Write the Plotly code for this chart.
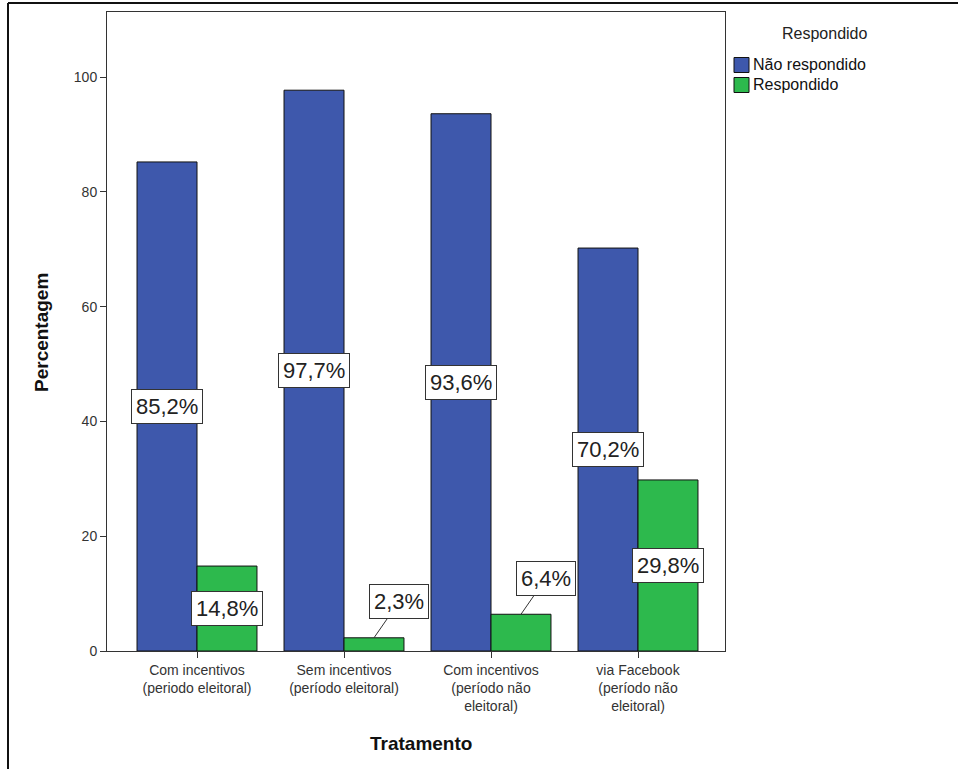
import plotly.graph_objects as go

categories = ["Com incentivos<br>(periodo eleitoral)", "Sem incentivos<br>(período eleitoral)",
              "Com incentivos<br>(período não<br>eleitoral)", "via Facebook<br>(período não<br>eleitoral)"]
series_names = ["Não respondido", "Respondido"]
nao_respondido = [85.2, 97.7, 93.6, 70.2]
respondido = [14.8, 2.3, 6.4, 29.8]
y_ticks = [0, 20, 40, 60, 80, 100]

W, H = 958, 769
L, T, R, B = 107, 12, 725, 651  # plot area pixels

BLUE = "#3E58AC"
GREEN = "#2DB94D"
FONT = "Liberation Sans, Arial, sans-serif"

fig = go.Figure()
xs = list(range(len(categories)))
fig.add_trace(go.Bar(x=xs, y=nao_respondido, name=series_names[0],
                     marker=dict(color=BLUE, line=dict(color="#111", width=1))))
fig.add_trace(go.Bar(x=xs, y=respondido, name=series_names[1],
                     marker=dict(color=GREEN, line=dict(color="#111", width=1))))

pw, ph = R - L, B - T
def px_x(p):
    return (p - L) / pw
def px_y(p):
    return (B - p) / ph

off = 0.204  # half of one bar width in category units
ann = []
box = dict(bgcolor="white", bordercolor="#333", borderwidth=1, borderpad=4,
           font=dict(family=FONT, size=22, color="#222"))
for i, v in enumerate(nao_respondido):
    ann.append(dict(x=i - off, y=v / 2, text=f"{v:.1f}%".replace(".", ","),
                    showarrow=False, xref="x", yref="y", **box))
for i, v in enumerate(respondido):
    txt = f"{v:.1f}%".replace(".", ",")
    if v < 10:
        ann.append(dict(x=i + off, y=v, text=txt, showarrow=True, arrowhead=0,
                        arrowwidth=1, arrowcolor="#333", ax=25, ay=-36,
                        xref="x", yref="y", **box))
    else:
        ann.append(dict(x=i + off, y=v / 2, text=txt, showarrow=False,
                        xref="x", yref="y", **box))

# legend (drawn manually to match the original layout)
ann.append(dict(x=px_x(780), y=px_y(33), xref="paper", yref="paper",
                xanchor="left", yanchor="middle", showarrow=False, text="Respondido",
                font=dict(family=FONT, size=16, color="#222")))
shapes = []
for k, (nm, col) in enumerate(zip(series_names, [BLUE, GREEN])):
    cy = 65 + 20 * k
    shapes.append(dict(type="rect", xref="paper", yref="paper",
                       x0=px_x(734), x1=px_x(749), y0=px_y(cy - 7.5), y1=px_y(cy + 7.5),
                       fillcolor=col, line=dict(color="#111", width=1)))
    ann.append(dict(x=px_x(751), y=px_y(cy), xref="paper", yref="paper",
                    xanchor="left", yanchor="middle", showarrow=False, text=nm,
                    font=dict(family=FONT, size=16, color="#111")))

# axis titles
ann.append(dict(x=px_x(42), y=px_y(333), xref="paper", yref="paper",
                xanchor="center", yanchor="middle",
                textangle=-90, showarrow=False, text="<b>Percentagem</b>",
                font=dict(family=FONT, size=19, color="#111")))
ann.append(dict(x=px_x(421), y=px_y(743), xref="paper", yref="paper",
                xanchor="center", yanchor="middle",
                showarrow=False, text="<b>Tratamento</b>",
                font=dict(family=FONT, size=19, color="#111")))

shapes += [
    dict(type="line", xref="paper", yref="paper", x0=px_x(8), x1=px_x(8), y0=px_y(3), y1=px_y(770),
         line=dict(color="#111", width=2)),
    dict(type="line", xref="paper", yref="paper", x0=px_x(8), x1=px_x(960), y0=px_y(3), y1=px_y(3),
         line=dict(color="#111", width=2)),
]

ymax = (B - T) / ((B - 77) / 100)
fig.update_layout(
    width=W, height=H, autosize=False,
    margin=dict(l=L, r=W - R, t=T, b=H - B, pad=0),
    paper_bgcolor="white", plot_bgcolor="white",
    barmode="group", bargap=0.184, bargroupgap=0,
    font=dict(family=FONT, size=14, color="#333"),
    showlegend=False,
    annotations=ann, shapes=shapes,
    xaxis=dict(range=[-90 / 147, 3 + 87 / 147], tickmode="array", tickvals=xs, ticktext=categories,
               showline=True, mirror=True, linecolor="#333", linewidth=1,
               ticks="outside", ticklen=6, tickcolor="#333", showgrid=False, zeroline=False,
               tickfont=dict(family=FONT, size=14, color="#333")),
    yaxis=dict(range=[0, ymax], tickvals=y_ticks, showline=True, mirror=True, linecolor="#333",
               linewidth=1, ticks="outside", ticklen=6, tickcolor="#333", showgrid=False,
               zeroline=False, tickfont=dict(family=FONT, size=14, color="#333")),
)

fig.write_html("out.html")
